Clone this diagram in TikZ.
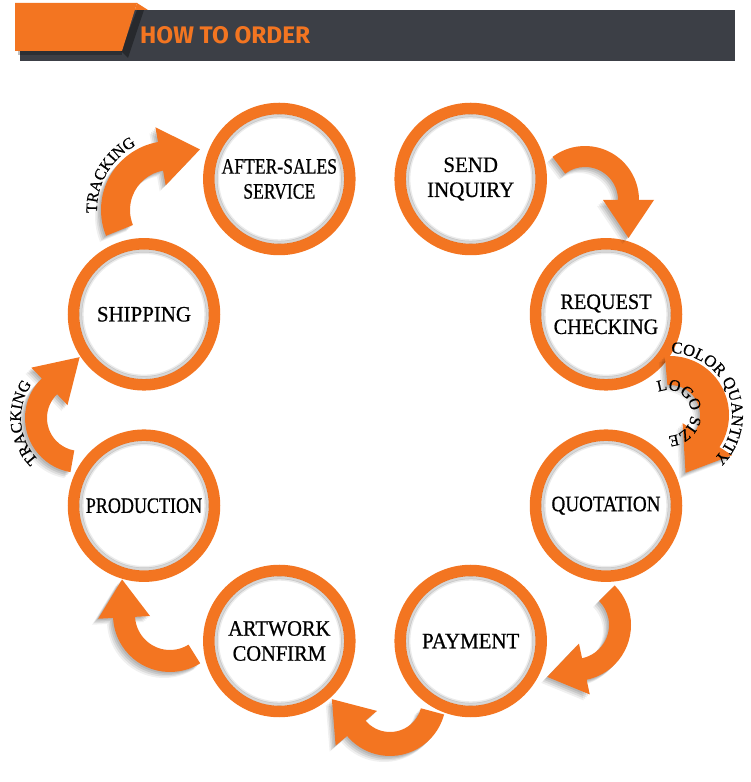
\documentclass[tikz,border=0pt]{standalone}
\usepackage{fontspec}
\setmainfont{Liberation Serif}
\newfontfamily\lblfont{Liberation Serif}[FakeBold=0.7]
\newfontfamily\arcfont{Liberation Serif}[FakeBold=0.5]
\newfontfamily\hdrfont{Fira Sans}
\usetikzlibrary{calc,decorations.text}
\definecolor{ora}{RGB}{243,117,33}
\definecolor{bardark}{RGB}{60,63,70}
\newcommand\arcA{\arcfont\fontsize{16.5}{18}\selectfont}
\newcommand\arcB{\arcfont\fontsize{16}{18}\selectfont}
\newcommand\sx[2]{\scalebox{#1}[1]{#2}}
% cx cy ro ri a0 a1 L
\newcommand\arrowspec[7]{%
 ($(#1,#2)+(#5:#3pt)$) arc[start angle=#5,end angle=#6,radius=#3pt]
 -- ($(#1,#2)+(#6:{#3pt+15pt})$)
 -- ($(#1,#2)+(#6:{(#3+#4)*0.5pt})+({#6-90}:#7pt)$)
 -- ($(#1,#2)+(#6:{#4pt-15pt})$)
 -- ($(#1,#2)+(#6:#4pt)$)
 arc[start angle=#6,end angle=#5,radius=#4pt] -- cycle}
\newcommand\myarrow[7]{%
 \foreach \d/\o in {1.5/0.09,3/0.09,4.5/0.08,6/0.06}{%
   \fill[black,opacity=\o] \arrowspec{#1-\d}{#2-\d}{#3}{#4}{#5}{#6}{#7};}
 \fill[ora] \arrowspec{#1}{#2}{#3}{#4}{#5}{#6}{#7};}
\tikzset{
 stepc/.style={circle, draw=ora, line width=11.5pt, fill=white, minimum size=141pt,
   inner sep=0pt, align=center, text=black, font=\lblfont\fontsize{22}{25}\selectfont},
 arctext/.style={decorate, decoration={text along path, text align=center, text={#1}}}
}
\begin{document}
\begin{tikzpicture}[x=1pt,y=1pt]
\useasboundingbox (0,0) rectangle (750,782);
\fill[white] (0,0) rectangle (750,782);
% header
\fill[bardark] (20,721) rectangle (735,772);
\fill[black,opacity=.35] (137,772)--(144,772)--(128,724)--(121,731)--cycle;
\fill[black,opacity=.25] (18,731) rectangle (122,727);
\fill[ora] (15,731)--(15,779)--(137,779)--(122,731)--cycle;
\fill[ora] (137,779)--(148,772)--(134.8,772)--cycle;
\node[anchor=south west,inner sep=0pt,text=ora] (title) at (140,738)
  {\resizebox{170pt}{17pt}{\hdrfont\bfseries HOW TO ORDER}};
% circles
\node[stepc] (after) at (279.3,603) {\sx{0.8}{AFTER-SALES}\\\sx{0.8}{SERVICE}};
\node[stepc] (send) at (470.7,603) {\sx{0.95}{SEND}\\\sx{0.95}{INQUIRY}};
\node[stepc] (request) at (606,467.7) {\sx{0.92}{REQUEST}\\\sx{0.92}{CHECKING}};
\node[stepc] (quot) at (606,276.3) {\sx{0.87}{QUOTATION}};
\node[stepc] (pay) at (470.7,141) {\sx{0.95}{PAYMENT}};
\node[stepc] (art) at (279.3,141) {\sx{0.93}{ARTWORK}\\\sx{0.93}{CONFIRM}};
\node[stepc] (prod) at (144,276.3) {\sx{0.82}{PRODUCTION}};
\node[stepc] (ship) at (144,467.7) {\sx{0.95}{SHIPPING}};
\foreach \n in {after,send,request,quot,pay,art,prod,ship}{
  \draw[black,opacity=.16,line width=3pt] (\n.center) circle[radius=63.3pt];
  \draw[black,opacity=.08,line width=2pt] (\n.center) circle[radius=61.3pt];
}
% arrows
\myarrow{585}{582}{54}{33}{127}{0}{38}
\myarrow{670}{367}{59}{30}{95}{-33}{40}
\myarrow{575}{157}{56}{34}{45}{-78}{38}
\myarrow{390}{82}{56}{32}{-15}{-140}{38}
\myarrow{170}{167}{57}{35}{-58}{-177}{38}
\myarrow{80}{364}{55}{33}{-100}{-226}{42}
\myarrow{170}{572}{69}{40}{202}{100}{40}
% arrow texts
\path[arctext={|\arcA|COLOR QUANTITY}] ($(670,367)+(105:62pt)$) arc[start angle=105,end angle=-61,radius=62pt];
\path[arctext={|\arcB|LOGO SIZE}] ($(668,369)+(120:23pt)$) arc[start angle=120,end angle=-95,radius=23pt];
\path[arctext={|\arcB|TRACKING}] ($(170,572)+(210:73pt)$) arc[start angle=210,end angle=90,radius=73pt];
\path[arctext={|\arcB|TRACKING}] ($(80,364)+(255:59pt)$) arc[start angle=255,end angle=115,radius=59pt];
\end{tikzpicture}
\end{document}
